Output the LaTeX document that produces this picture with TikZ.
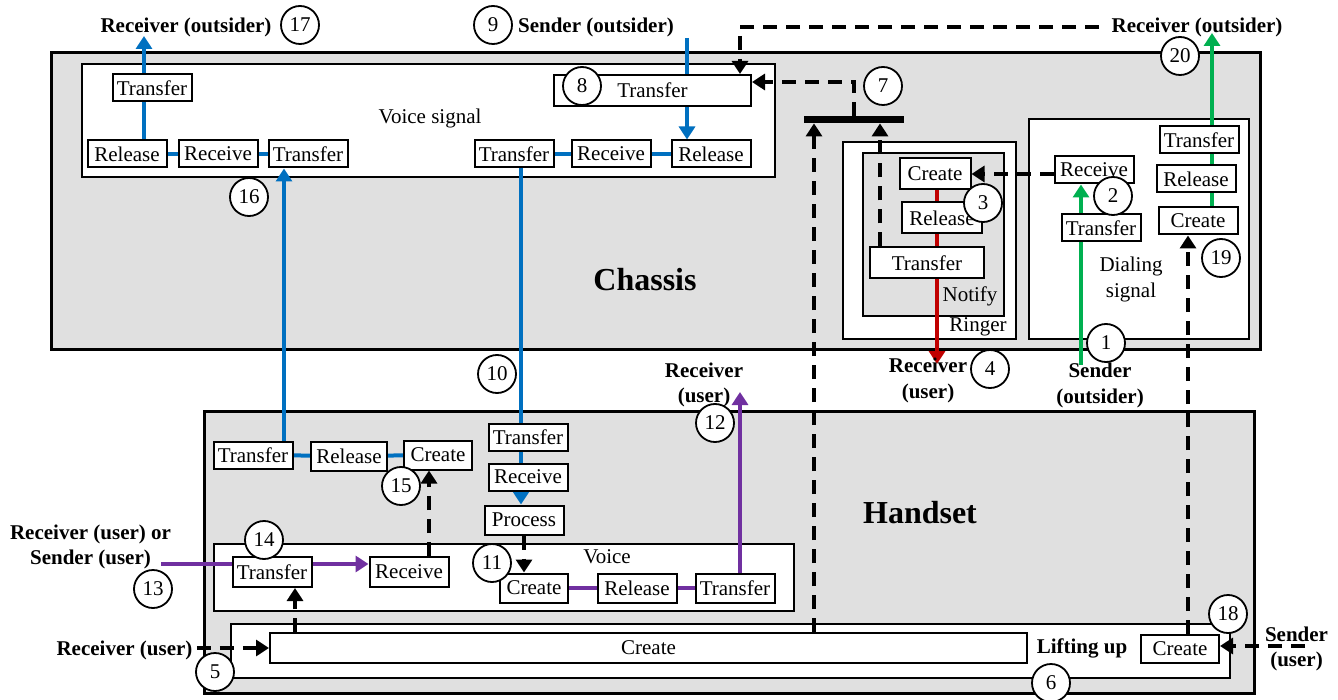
\documentclass[tikz,border=0pt]{standalone}
\usepackage{fontspec}
\setmainfont{Liberation Serif}
\usepackage{tikz}
\usetikzlibrary{arrows.meta}
\definecolor{ChassisGray}{HTML}{E0E0E0}
\definecolor{VoiceBlue}{HTML}{0070C0}
\definecolor{DialGreen}{HTML}{00B050}
\definecolor{RingRed}{HTML}{C00000}
\definecolor{UserPurple}{HTML}{7030A0}
\pgfdeclarelayer{frames}
\pgfdeclarelayer{wires}
\pgfsetlayers{frames,wires,main}

\begin{document}
\begin{tikzpicture}[x=0.5pt,y=-0.5pt,
  every node/.style={font=\fontsize{10.5}{12.5}\selectfont},
  frame/.style={draw,line width=1pt,inner sep=0pt,anchor=north west},
  op/.style={draw,fill=white,line width=1pt,inner sep=1pt,minimum width=39.5pt,minimum height=13.5pt},
  num/.style={circle,draw,fill=white,line width=0.9pt,minimum size=19pt,inner sep=0pt},
  tag/.style={font=\fontsize{10.5}{12.75}\selectfont\bfseries,align=center,inner sep=2pt},
  title/.style={font=\fontsize{16}{19}\selectfont\bfseries},
  tip/.style={-{Triangle[width=8pt,length=6.5pt]}},
  bluew/.style={draw=VoiceBlue,line width=2pt},
  greenw/.style={draw=DialGreen,line width=2pt},
  redw/.style={draw=RingRed,line width=2pt},
  purplew/.style={draw=UserPurple,line width=2pt},
  dashw/.style={draw=black,line width=2pt,dash pattern=on 7pt off 4.5pt}]
\useasboundingbox (0,0) rectangle (1338,700);

\begin{pgfonlayer}{frames}
\node[frame,line width=1.3pt,fill=ChassisGray,minimum width=604.5pt,minimum height=148.5pt] (chassis) at (50,51) {};
\node[frame,fill=white,minimum width=346.5pt,minimum height=56.5pt] (voicesig) at (81,63) {};
\node[frame,fill=white,minimum width=86.5pt,minimum height=98.5pt] (ringer) at (842,141) {};
\node[frame,fill=ChassisGray,minimum width=70.5pt,minimum height=81.5pt] (notify) at (862,152) {};
\node[frame,fill=white,minimum width=110pt,minimum height=110pt] (dialing) at (1028,118) {};
\node[frame,line width=1.3pt,fill=ChassisGray,minimum width=525pt,minimum height=141pt] (handset) at (203,410) {};
\node[frame,fill=white,minimum width=290pt,minimum height=33.5pt] (voice) at (213,543) {};
\node[frame,fill=white,minimum width=499.5pt,minimum height=27pt] (lifting) at (230,623) {};
\end{pgfonlayer}

\node (vslbl) at (430,118) {Voice signal};
\node (ntlbl) at (970,296) {Notify};
\node (rglbl) at (978,327) {Ringer};
\node[align=center,font=\fontsize{10.5}{13}\selectfont] (dllbl) at (1131,279) {Dialing\\signal};
\node (vclbl) at (607,557) {Voice};
\node[title] (chlbl) at (645,280) {Chassis};
\node[title] (hslbl) at (920,513) {Handset};
\node[tag] (lflbl) at (1082,648) {Lifting up};

\node[op] (tfA) at (152,88) {Transfer};
\node[op] (rlA) at (127,154) {Release};
\node[op] (rvA) at (218,154) {Receive};
\node[op] (tfB) at (308,154) {Transfer};
\node[op,minimum width=98.5pt,minimum height=15.5pt] (tfC) at (652.5,90.5) {Transfer};
\node[op] (tfD) at (514,154) {Transfer};
\node[op] (rvD) at (611,154) {Receive};
\node[op] (rlD) at (711,154) {Release};

\node[op,minimum width=35.5pt,minimum height=15.5pt] (crR) at (935,174) {Create};
\node[op,minimum width=40pt,minimum height=15.5pt] (rlR) at (942,218) {Release};
\node[op,minimum width=57pt,minimum height=15.5pt] (tfR) at (927,263) {Transfer};

\node[op] (rvG) at (1094,170) {Receive};
\node[op] (tfG) at (1101,228) {Transfer};
\node[op] (tfH) at (1199,140) {Transfer};
\node[op] (rlH) at (1196,179) {Release};
\node[op] (crH) at (1198,221) {Create};

\node[op] (tfJ) at (253,455) {Transfer};
\node[op,minimum width=38pt,minimum height=14.5pt] (rlJ) at (349,456) {Release};
\node[op,minimum width=34pt,minimum height=14.5pt] (crJ) at (438,455) {Create};
\node[op] (tfK) at (528,437) {Transfer};
\node[op] (rvK) at (528,477) {Receive};
\node[op,minimum height=14.5pt] (prK) at (524,520) {Process};

\node[op,minimum height=15pt] (tfV) at (272,572) {Transfer};
\node[op,minimum height=15pt] (rvV) at (409,572) {Receive};
\node[op,minimum width=34pt,minimum height=14.5pt] (crV) at (534,588) {Create};
\node[op,minimum height=14.5pt] (rlV) at (637,588) {Release};
\node[op,minimum height=14.5pt] (tfW) at (735,588) {Transfer};

\node[op,minimum width=378.5pt,minimum height=15pt] (crL) at (648.5,648) {Create};
\node[op,minimum width=39pt,minimum height=14pt] (crS) at (1180,649) {Create};

\node[fill=black,minimum width=50pt,minimum height=3.5pt,inner sep=0pt] (bar) at (854,119.5) {};

\node[tag] (lrA) at (186,27) {Receiver (outsider)};
\node[tag] (lsB) at (596,27) {Sender (outsider)};
\node[tag] (lrC) at (1197,27) {Receiver (outsider)};
\node[tag] (lrD) at (928,380.5) {Receiver\\(user)};
\node[tag] (lsE) at (1100,385.5) {Sender\\(outsider)};
\node[tag] (lrF) at (704,385) {Receiver\\(user)};
\node[tag] (lmG) at (90.5,547) {Receiver (user) or\\Sender (user)};
\node[tag] (lrH) at (124.5,650) {Receiver (user)};
\node[tag] (lsI) at (1296.5,649) {Sender\\(user)};

\node[num] (n1) at (1106,343) {1};
\node[num] (n2) at (1113,196) {2};
\node[num] (n3) at (983,203) {3};
\node[num] (n4) at (990,369) {4};
\node[num] (n5) at (215,672) {5};
\node[num] (n6) at (1051,683) {6};
\node[num] (n7) at (883,86) {7};
\node[num] (n8) at (582,86) {8};
\node[num] (n9) at (493,25) {9};
\node[num] (n10) at (497,374) {10};
\node[num] (n11) at (492,563) {11};
\node[num] (n12) at (715,423) {12};
\node[num] (n13) at (153,589) {13};
\node[num] (n14) at (264,540) {14};
\node[num] (n15) at (401,486) {15};
\node[num] (n16) at (249,197) {16};
\node[num] (n17) at (300,25) {17};
\node[num] (n18) at (1228,614) {18};
\node[num] (n19) at (1221,258) {19};
\node[num] (n20) at (1180,56) {20};

\begin{pgfonlayer}{wires}
\coordinate (upA) at (144,36);
\draw[bluew,tip] (rlA.north -| upA) -- (upA);
\draw[bluew] (rlA) -- (rvA) -- (tfB);
\coordinate (upB) at ([xshift=-12pt]tfB.south);
\draw[bluew,tip] (upB |- tfJ.north) -- (upB);
\draw[bluew] (tfJ) -- (rlJ) -- (crJ);
\coordinate (dnD) at (521,300);
\draw[bluew] (tfD.south -| dnD) -- (rvK.south -| dnD);
\draw[bluew,tip] (rvK.south -| dnD) -- (prK.north -| dnD);
\draw[bluew] (tfD) -- (rvD) -- (rlD);
\coordinate (dnC) at (687,38);
\draw[bluew,tip] (dnC) -- (dnC |- rlD.north);

\coordinate (upG) at (1081,365);
\draw[greenw,tip] (upG) -- (upG |- rvG.south);
\coordinate (upH) at (1212,33);
\draw[greenw,tip] (upH |- crH.north) -- (upH);

\coordinate (dnR) at (937,364);
\draw[redw,tip] (dnR |- crR.south) -- (dnR);

\coordinate (inP) at (161,564);
\draw[purplew,tip] (inP) -- (inP -| rvV.west);
\draw[purplew] (crV) -- (rlV) -- (tfW);
\coordinate (upF) at (740,392);
\draw[purplew,tip] (upF |- tfW.north) -- (upF);

\coordinate (kC) at ([xshift=43.75pt]tfC.north);
\draw[dashw,tip] ([xshift=-4pt]lrC.west) -| (kC);
\draw[dashw,tip] (bar.north) |- ([yshift=4.25pt]tfC.east);
\coordinate (kL) at ([xshift=-20pt]bar.south);
\draw[dashw,tip] (kL |- crL.north) -- (kL);
\coordinate (kR) at ([xshift=13pt]bar.south);
\draw[dashw,tip] (kR |- tfR.north) -- (kR);
\draw[dashw,tip] (crR.east -| rvG.west) -- (crR.east);
\coordinate (kS) at ([xshift=4pt]crS.north);
\draw[dashw,tip] (kS) -- (kS |- crH.south);
\coordinate (kI) at (1305,646);
\draw[dashw,tip] (kI) -- (kI -| crS.east);
\draw[dashw,tip] (crL.west -| lrH.east) -- (crL.west);
\coordinate (kV) at ([xshift=11.5pt]tfV.south);
\draw[dashw,tip] (kV |- crL.north) -- (kV);
\coordinate (kJ) at ([xshift=-4.5pt]crJ.south);
\draw[dashw,tip] (kJ |- rvV.north) -- (kJ);
\draw[dashw,tip] (prK.south) -- (prK.south |- crV.north);
\end{pgfonlayer}
\end{tikzpicture}
\end{document}
